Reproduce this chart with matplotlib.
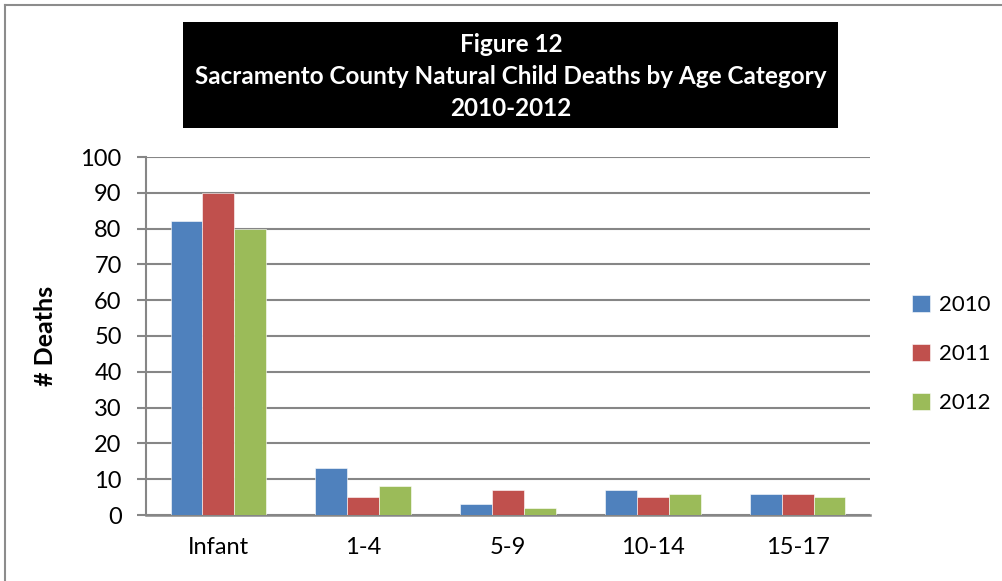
import matplotlib
matplotlib.use("Agg")
import matplotlib.pyplot as plt
from matplotlib.patches import Rectangle
import numpy as np

plt.rcParams['font.family'] = ['Lato', 'DejaVu Sans']

categories = ["Infant", "1-4", "5-9", "10-14", "15-17"]
years = ["2010", "2011", "2012"]
deaths_2010 = [82, 13, 3, 7, 6]
deaths_2011 = [90, 5, 7, 5, 6]
deaths_2012 = [80, 8, 2, 6, 5]
series = [deaths_2010, deaths_2011, deaths_2012]
colors = ["#4F81BD", "#C0504D", "#9BBB59"]
title_lines = ["Figure 12",
               "Sacramento County Natural Child Deaths by Age Category",
               "2010-2012"]

W, H = 1003, 581
fig = plt.figure(figsize=(W / 100, H / 100), dpi=100)

# outer frame (left and top edges)
fig.add_artist(plt.Line2D([5 / W, 5 / W], [0, 1 - 5 / H], color="#8c8c8c", lw=1.5))
fig.add_artist(plt.Line2D([5 / W, 1], [1 - 5 / H, 1 - 5 / H], color="#8c8c8c", lw=1.5))

# plot area
left, right, top, bottom = 146, 870, 157, 515
ax = fig.add_axes([left / W, 1 - bottom / H, (right - left) / W, (bottom - top) / H])

x = np.arange(len(categories))
bw = 0.22
for i, (vals, c, yr) in enumerate(zip(series, colors, years)):
    ax.bar(x + (i - 1) * bw, vals, width=bw, color=c, label=yr,
           edgecolor="white", linewidth=0.4, zorder=3)

ax.set_xlim(-0.5, len(categories) - 0.5)
ax.set_ylim(0, 100)
ax.set_yticks(np.arange(0, 101, 10))
ax.set_xticks(x)
ax.set_xticklabels(categories)
ax.yaxis.grid(True, color="#868686", linewidth=1.5, zorder=0)
ax.set_axisbelow(True)
for s in ["top", "right"]:
    ax.spines[s].set_visible(False)
ax.spines["left"].set_color("#868686")
ax.spines["left"].set_linewidth(1.5)
ax.spines["bottom"].set_color("#868686")
ax.spines["bottom"].set_linewidth(1.8)
ax.tick_params(axis="y", length=6.5, width=1.5, color="#868686", labelsize=17, pad=11)
ax.tick_params(axis="x", length=0, labelsize=17, pad=16)
ax.set_ylabel("# Deaths", fontsize=18, fontweight="bold")
ax.yaxis.set_label_coords((57 - left) / (right - left), 0.5)

# legend
ax.legend(loc="center left", bbox_to_anchor=((903 - left) / (right - left), (bottom - 354) / (bottom - top)),
          frameon=False, fontsize=16, handlelength=0.8, handleheight=0.8,
          handletextpad=0.4, labelspacing=1.3, borderaxespad=0)

# title box
fig.add_artist(Rectangle((183 / W, 1 - 128 / H), (838 - 183) / W, (128 - 22) / H,
                         facecolor="black", edgecolor="none", transform=fig.transFigure))
for yy, line in zip([45, 77, 109], title_lines):
    fig.text(511 / W, 1 - yy / H, line, color="white", fontsize=17.5, fontweight="bold",
             ha="center", va="center")

fig.savefig("out.png", dpi=100)
